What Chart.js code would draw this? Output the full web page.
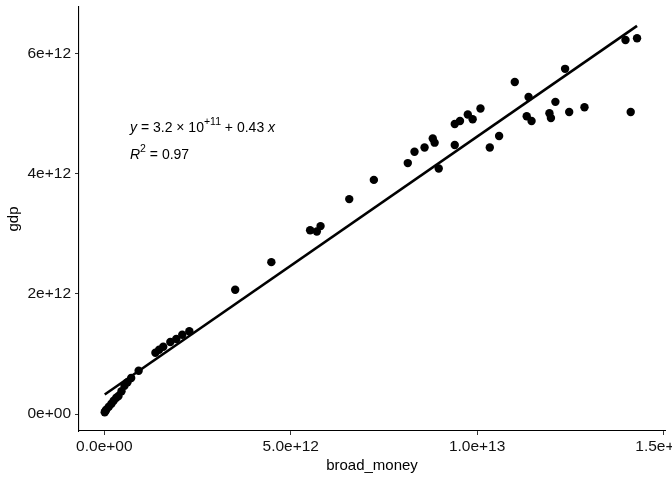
<!DOCTYPE html>
<html>
<head>
<meta charset="utf-8">
<script src="https://cdn.jsdelivr.net/npm/chart.js@4.4.1/dist/chart.umd.min.js"></script>
<style>
    html, body { margin: 0; padding: 0; background: #ffffff; }
    #chart { display: block; }
</style>
</head>
<body>
<canvas id="chart" width="672" height="480"></canvas>
<script>
// values in units of 1e12
const broadMoney = [
    0.01, 0.03, 0.05, 0.12, 0.19, 0.25, 0.32, 0.38, 0.46, 0.54, 0.62, 0.72, 0.92,
    1.37, 1.47, 1.58, 1.77, 1.93, 2.09, 2.28,
    3.51, 4.48, 5.52, 5.70, 5.80, 6.57, 7.23,
    8.14, 8.32, 8.59, 8.81, 8.86, 8.97, 9.40, 9.54, 9.40, 9.75, 9.88, 10.09,
    10.34, 10.59, 11.01, 11.38, 11.33, 11.46, 11.94, 11.98, 12.10, 12.36,
    12.47, 12.88, 13.98, 14.29, 14.12
];
const gdp = [
    0.03, 0.05, 0.07, 0.12, 0.17, 0.22, 0.27, 0.30, 0.38, 0.47, 0.53, 0.60, 0.72,
    1.02, 1.07, 1.12, 1.20, 1.25, 1.32, 1.38,
    2.07, 2.53, 3.06, 3.04, 3.13, 3.58, 3.90,
    4.18, 4.37, 4.44, 4.59, 4.52, 4.09, 4.83, 4.88, 4.48, 4.99, 4.91, 5.09,
    4.44, 4.63, 5.53, 5.28, 4.96, 4.88, 5.01, 4.93, 5.20, 5.75,
    5.03, 5.11, 6.23, 6.26, 5.03
];
const UNIT = 1e12;

// fitted line as printed on the chart
const intercept = 3.2e11;
const slope = 0.43;
const r2 = 0.97;

const xTicks = [0, 5e12, 1e13, 1.5e13];
const yTicks = [0, 2e12, 4e12, 6e12];

function sciLabel(value, digits) {
    const s = Number(value).toExponential(digits);
    const parts = s.split('e');
    let exp = parts[1];
    const sign = exp[0];
    let num = exp.slice(1);
    if (num.length < 2) num = '0' + num;
    return parts[0] + 'e' + sign + num;
}

const points = broadMoney.map((b, i) => ({ x: b * UNIT, y: gdp[i] * UNIT }));
const xMin = Math.min(...broadMoney) * UNIT;
const xMax = Math.max(...broadMoney) * UNIT;
const fitLine = [
    { x: xMin, y: intercept + slope * xMin },
    { x: xMax, y: intercept + slope * xMax }
];

const FONT = '"Liberation Sans", Arial, Helvetica, sans-serif';

const equationLabel = {
    id: 'equationLabel',
    afterDraw(chart) {
        const ctx = chart.ctx;
        const x0 = 130;
        const lines = [
            { y: 128, parts: [
                { t: 'y', style: 'italic' },
                { t: ' = 3.2 \u00d7 10', style: 'normal' },
                { t: '+11', style: 'sup' },
                { t: ' + 0.43 ', style: 'normal' },
                { t: 'x', style: 'italic' }
            ] },
            { y: 155, parts: [
                { t: 'R', style: 'italic' },
                { t: '2', style: 'sup' },
                { t: ' = ' + r2.toFixed(2), style: 'normal' }
            ] }
        ];
        ctx.save();
        ctx.fillStyle = '#000000';
        ctx.textBaseline = 'middle';
        ctx.textAlign = 'left';
        for (let line of lines) {
            let x = x0;
            for (let p of line.parts) {
                let dy = 0;
                if (p.style === 'italic') {
                    ctx.font = 'italic 14px ' + FONT;
                } else if (p.style === 'sup') {
                    ctx.font = '10.5px ' + FONT;
                    dy = -6;
                } else {
                    ctx.font = '14px ' + FONT;
                }
                ctx.fillText(p.t, x, line.y + dy);
                x += ctx.measureText(p.t).width;
            }
        }
        ctx.restore();
    }
};

new Chart(document.getElementById('chart'), {
    type: 'scatter',
    data: {
        datasets: [
            {
                data: fitLine,
                showLine: true,
                borderColor: '#000000',
                borderWidth: 2.6,
                pointRadius: 0,
                fill: false
            },
            {
                data: points,
                backgroundColor: '#000000',
                borderWidth: 0,
                pointRadius: 4.2
            }
        ]
    },
    options: {
        responsive: false,
        animation: false,
        layout: { padding: { top: 7, right: 7, bottom: 0, left: 0 } },
        plugins: {
            legend: { display: false },
            tooltip: { enabled: false }
        },
        scales: {
            x: {
                type: 'linear',
                min: -0.68e12,
                max: 15.04e12,
                afterBuildTicks(scale) {
                    scale.ticks = xTicks.map(v => ({ value: v }));
                },
                afterFit(scale) {
                    scale.paddingLeft = 0;
                    scale.paddingRight = 0;
                    scale.height = 49;
                },
                grid: {
                    drawOnChartArea: false,
                    drawTicks: true,
                    tickLength: 4,
                    tickColor: '#333333',
                    tickWidth: 1
                },
                border: { display: true, color: '#000000', width: 1.1 },
                ticks: {
                    color: '#111111',
                    font: { family: FONT, size: 15.5 },
                    padding: 2,
                    maxRotation: 0,
                    autoSkip: false,
                    callback: v => sciLabel(v, 1)
                },
                title: {
                    display: true,
                    text: 'broad_money',
                    color: '#000000',
                    font: { family: FONT, size: 15 },
                    padding: { top: 0, bottom: 5 }
                }
            },
            y: {
                type: 'linear',
                min: -0.283e12,
                max: 6.78e12,
                afterBuildTicks(scale) {
                    scale.ticks = yTicks.map(v => ({ value: v }));
                },
                afterFit(scale) {
                    scale.paddingTop = 0;
                    scale.paddingBottom = 0;
                    scale.width = 79;
                },
                grid: {
                    drawOnChartArea: false,
                    drawTicks: true,
                    tickLength: 4,
                    tickColor: '#333333',
                    tickWidth: 1
                },
                border: { display: true, color: '#000000', width: 1.1 },
                ticks: {
                    color: '#111111',
                    font: { family: FONT, size: 15.5 },
                    padding: 4,
                    autoSkip: false,
                    callback: v => sciLabel(v, 0)
                },
                title: {
                    display: true,
                    text: 'gdp',
                    color: '#000000',
                    font: { family: FONT, size: 15 },
                    padding: { top: 5, bottom: 0 }
                }
            }
        }
    },
    plugins: [equationLabel]
});
</script>
</body>
</html>
